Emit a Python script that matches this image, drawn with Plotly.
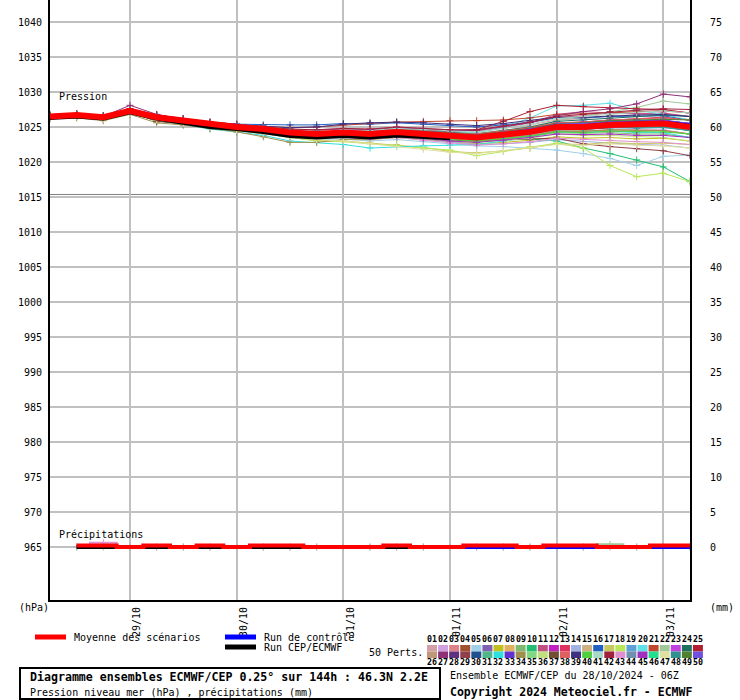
import plotly.graph_objects as go

# ---------------- data ----------------
HOURS = [0, 6, 12, 18, 24, 30, 36, 42, 48, 54, 60, 66, 72, 78, 84, 90, 96, 102, 108, 114, 120, 126, 132, 138, 144]
DAY_HOURS = [18, 42, 66, 90, 114, 138]
DAY_LABELS = ["29/10", "30/10", "31/10", "01/11", "02/11", "03/11"]
P_TICKS = [965, 970, 975, 980, 985, 990, 995, 1000, 1005, 1010, 1015, 1020, 1025, 1030, 1035, 1040]
MM_TICKS = [0, 5, 10, 15, 20, 25, 30, 35, 40, 45, 50, 55, 60, 65, 70, 75]

MEAN = [1026.5, 1026.7, 1026.4, 1027.3, 1026.4, 1025.9, 1025.3, 1025.0, 1024.7, 1024.2, 1024.0, 1024.2, 1024.0,
        1024.3, 1024.0, 1023.7, 1023.5, 1023.9, 1024.3, 1025.0, 1025.0, 1025.3, 1025.4, 1025.5, 1025.0]
CONTROL = [1026.5, 1026.7, 1026.4, 1027.3, 1026.4, 1025.9, 1025.3, 1025.0, 1024.7, 1024.2, 1024.0, 1024.2, 1024.0,
           1024.3, 1024.0, 1023.7, 1023.5, 1023.9, 1024.4, 1025.1, 1025.1, 1025.4, 1025.5, 1025.6, 1025.2]
HRES = [1026.3, 1026.5, 1026.2, 1027.1, 1026.2, 1025.6, 1025.0, 1024.7, 1024.3, 1023.7, 1023.5, 1023.7, 1023.5,
        1023.8, 1023.6, 1023.4]

MEMBER_COLORS = ["#d4a0a8", "#d0a0e0", "#e08088", "#a05030", "#a0d0e8", "#8060b0", "#c0c020", "#e0b060",
                 "#80b870", "#20c070", "#c05080", "#c020c0", "#e03060", "#a0b0e0", "#d0b080", "#2060c0",
                 "#c8c860", "#b8e858", "#60a0d8", "#60e0e8", "#c04830", "#a0c898", "#c040e0", "#207060",
                 "#b02030",
                 "#c09878", "#903078", "#603080", "#904048", "#205090", "#50b888", "#30e0e0", "#6030d0",
                 "#a09050", "#80d880", "#c0e080", "#705030", "#e06060", "#403080", "#50d040", "#a8d8c8",
                 "#a02040", "#e090d0", "#7090b0", "#a030c0", "#20e090", "#e0e0a0", "#309090", "#508030",
                 "#7050e0"]

M01 = [1026.6, 1026.8, 1026.5, 1027.4, 1026.6, 1026.1, 1025.6, 1025.3, 1025.0, 1024.6, 1024.5, 1024.7, 1024.6, 1024.9, 1024.7, 1024.5, 1024.4, 1024.8, 1025.3, 1026.0, 1026.2, 1026.6, 1026.7, 1026.9, 1026.5]
M02 = [1026.4, 1026.6, 1026.3, 1027.2, 1026.3, 1025.8, 1025.2, 1024.9, 1024.5, 1024.0, 1023.8, 1024.0, 1023.8, 1024.0, 1023.7, 1023.3, 1023.1, 1023.4, 1023.8, 1024.4, 1024.3, 1024.5, 1024.5, 1024.6, 1024.0]
M03 = [1026.7, 1026.9, 1026.6, 1027.6, 1026.7, 1026.2, 1025.7, 1025.4, 1025.1, 1024.7, 1024.6, 1024.8, 1024.7, 1025.0, 1024.8, 1024.6, 1024.6, 1025.1, 1025.6, 1026.4, 1026.6, 1027.0, 1027.2, 1027.4, 1027.0]
M04 = [1026.3, 1026.5, 1026.1, 1027.0, 1025.9, 1025.3, 1024.8, 1024.5, 1024.1, 1023.6, 1023.4, 1023.6, 1023.4, 1023.7, 1023.5, 1023.3, 1023.2, 1023.7, 1024.2, 1025.0, 1025.2, 1025.5, 1025.7, 1025.9, 1025.5]
M05 = [1026.4, 1026.6, 1026.2, 1027.1, 1026.1, 1025.6, 1025.0, 1024.6, 1024.2, 1023.6, 1023.2, 1023.3, 1023.0, 1023.2, 1022.9, 1022.6, 1022.3, 1022.2, 1022.0, 1021.7, 1021.2, 1020.5, 1019.5, 1020.8, 1021.0]
M06 = [1026.5, 1026.7, 1026.4, 1027.3, 1026.5, 1026.0, 1025.4, 1025.1, 1024.9, 1024.4, 1024.2, 1024.4, 1024.3, 1024.6, 1024.4, 1024.1, 1024.0, 1024.4, 1024.9, 1025.6, 1025.7, 1026.0, 1026.1, 1026.3, 1026.0]
M07 = [1026.2, 1026.4, 1026.0, 1026.9, 1026.0, 1025.5, 1024.9, 1024.6, 1024.3, 1023.8, 1023.5, 1023.6, 1023.3, 1023.5, 1023.2, 1022.8, 1022.6, 1022.8, 1023.1, 1023.6, 1023.4, 1023.5, 1023.3, 1023.4, 1023.0]
M08 = [1026.5, 1026.6, 1026.3, 1027.2, 1026.4, 1025.9, 1025.4, 1025.1, 1024.8, 1024.3, 1024.1, 1024.3, 1024.1, 1024.4, 1024.1, 1023.8, 1023.6, 1024.0, 1024.4, 1025.1, 1025.0, 1025.2, 1025.2, 1025.3, 1025.0]
M09 = [1026.3, 1026.5, 1026.2, 1027.1, 1026.2, 1025.7, 1025.1, 1024.8, 1024.4, 1023.9, 1023.7, 1023.8, 1023.6, 1023.8, 1023.5, 1023.1, 1022.9, 1023.2, 1023.6, 1024.2, 1024.1, 1024.2, 1024.0, 1024.0, 1023.5]
M10 = [1026.4, 1026.6, 1026.3, 1027.2, 1026.3, 1025.8, 1025.2, 1024.9, 1024.5, 1024.1, 1023.9, 1024.0, 1023.8, 1024.0, 1023.6, 1023.2, 1022.9, 1023.1, 1023.3, 1023.0, 1022.0, 1021.2, 1020.3, 1019.3, 1017.2]
M11 = [1026.6, 1026.8, 1026.5, 1027.5, 1026.6, 1026.1, 1025.5, 1025.2, 1024.9, 1024.4, 1024.3, 1024.5, 1024.4, 1024.7, 1024.5, 1024.3, 1024.3, 1024.9, 1025.6, 1026.8, 1027.2, 1027.0, 1026.9, 1027.0, 1026.5]
M12 = [1026.5, 1026.7, 1026.4, 1027.3, 1026.4, 1025.9, 1025.3, 1025.0, 1024.7, 1024.3, 1024.1, 1024.3, 1024.2, 1024.5, 1024.2, 1023.9, 1023.8, 1024.2, 1024.7, 1025.4, 1025.4, 1025.7, 1025.8, 1025.9, 1025.5]
M13 = [1026.6, 1026.8, 1026.5, 1027.4, 1026.5, 1026.0, 1025.5, 1025.1, 1024.8, 1024.3, 1024.2, 1024.4, 1024.3, 1024.6, 1024.3, 1024.0, 1023.9, 1024.3, 1024.8, 1025.5, 1025.7, 1026.0, 1026.2, 1026.4, 1026.0]
M14 = [1026.4, 1026.6, 1026.3, 1027.1, 1026.2, 1025.6, 1025.0, 1024.7, 1024.3, 1023.8, 1023.5, 1023.6, 1023.4, 1023.6, 1023.2, 1022.8, 1022.5, 1022.6, 1022.8, 1023.2, 1022.9, 1022.7, 1022.5, 1022.4, 1022.0]
M15 = [1026.5, 1026.6, 1026.3, 1027.2, 1026.3, 1025.8, 1025.2, 1024.9, 1024.6, 1024.1, 1023.8, 1024.0, 1023.8, 1024.1, 1023.8, 1023.4, 1023.2, 1023.5, 1023.9, 1024.5, 1024.4, 1024.6, 1024.5, 1024.5, 1024.0]
M16 = [1026.6, 1026.8, 1026.6, 1027.5, 1026.7, 1026.2, 1025.7, 1025.4, 1025.3, 1025.3, 1025.3, 1025.5, 1025.4, 1025.6, 1025.4, 1025.2, 1025.0, 1025.3, 1025.7, 1026.3, 1026.3, 1026.5, 1026.5, 1026.6, 1026.0]
M17 = [1026.3, 1026.5, 1026.2, 1027.0, 1026.1, 1025.5, 1024.9, 1024.5, 1024.1, 1023.5, 1023.1, 1023.0, 1022.7, 1022.5, 1022.1, 1021.5, 1021.3, 1021.6, 1022.0, 1022.6, 1022.5, 1022.8, 1022.6, 1022.7, 1022.5]
M18 = [1026.3, 1026.5, 1026.1, 1026.9, 1026.0, 1025.4, 1024.8, 1024.5, 1024.1, 1023.5, 1023.0, 1022.9, 1022.6, 1022.4, 1022.0, 1021.7, 1020.9, 1021.5, 1022.2, 1022.7, 1022.0, 1019.5, 1017.9, 1018.4, 1017.2]
M19 = [1026.5, 1026.7, 1026.4, 1027.3, 1026.4, 1025.9, 1025.3, 1025.0, 1024.7, 1024.2, 1024.0, 1024.1, 1023.9, 1024.1, 1023.8, 1023.4, 1023.2, 1023.5, 1023.9, 1024.6, 1024.6, 1024.9, 1024.8, 1024.9, 1024.5]
M20 = [1026.6, 1026.8, 1026.5, 1027.4, 1026.5, 1026.1, 1025.5, 1025.2, 1024.9, 1024.5, 1024.3, 1024.5, 1024.4, 1024.7, 1024.5, 1024.3, 1024.2, 1024.9, 1026.3, 1028.0, 1028.1, 1028.4, 1027.4, 1026.8, 1026.0]
M21 = [1026.6, 1026.8, 1026.5, 1027.5, 1026.6, 1026.1, 1025.6, 1025.3, 1025.1, 1024.9, 1025.0, 1025.3, 1025.5, 1025.7, 1025.8, 1025.9, 1025.9, 1026.0, 1026.3, 1026.8, 1026.9, 1027.0, 1027.2, 1027.3, 1027.0]
M22 = [1026.5, 1026.7, 1026.4, 1027.3, 1026.4, 1025.9, 1025.4, 1025.1, 1024.8, 1024.3, 1024.1, 1024.3, 1024.2, 1024.5, 1024.3, 1024.1, 1024.1, 1024.5, 1025.0, 1025.9, 1026.5, 1027.2, 1027.8, 1028.7, 1028.3]
M23 = [1026.5, 1026.7, 1026.4, 1027.3, 1026.4, 1025.9, 1025.3, 1025.0, 1024.6, 1024.2, 1023.9, 1024.1, 1023.9, 1024.2, 1023.9, 1023.6, 1023.4, 1023.8, 1024.2, 1024.9, 1024.9, 1025.1, 1025.2, 1025.3, 1025.0]
M24 = [1026.6, 1026.8, 1026.5, 1027.4, 1026.5, 1026.0, 1025.5, 1025.2, 1024.9, 1024.4, 1024.3, 1024.5, 1024.3, 1024.6, 1024.4, 1024.1, 1024.0, 1024.5, 1025.0, 1025.8, 1026.0, 1026.3, 1026.5, 1026.7, 1026.5]
M25 = [1026.7, 1026.9, 1026.6, 1027.6, 1026.7, 1026.2, 1025.6, 1025.3, 1025.0, 1024.6, 1024.4, 1024.6, 1024.5, 1024.8, 1024.6, 1024.4, 1024.6, 1025.8, 1027.2, 1028.1, 1027.9, 1027.7, 1027.6, 1027.5, 1027.0]
M26 = [1026.4, 1026.6, 1026.3, 1027.2, 1025.9, 1025.5, 1025.0, 1024.8, 1024.4, 1023.9, 1023.7, 1023.9, 1023.7, 1023.9, 1023.6, 1023.3, 1023.1, 1023.4, 1023.8, 1024.4, 1024.4, 1024.6, 1024.5, 1024.5, 1024.0]
M27 = [1026.6, 1026.8, 1026.5, 1028.1, 1026.8, 1026.1, 1025.6, 1025.3, 1025.0, 1024.6, 1024.5, 1024.7, 1024.6, 1024.9, 1024.7, 1024.5, 1024.5, 1025.0, 1025.6, 1026.6, 1027.2, 1027.6, 1028.3, 1029.7, 1029.3]
M28 = [1026.5, 1026.7, 1026.4, 1027.3, 1026.4, 1025.9, 1025.4, 1025.0, 1024.7, 1024.3, 1024.1, 1024.3, 1024.1, 1024.4, 1024.1, 1023.8, 1023.7, 1024.1, 1024.6, 1025.3, 1025.4, 1025.7, 1025.8, 1025.9, 1025.5]
M29 = [1026.4, 1026.6, 1026.2, 1027.1, 1026.1, 1025.6, 1025.0, 1024.7, 1024.3, 1023.8, 1023.5, 1023.7, 1023.5, 1023.7, 1023.4, 1023.1, 1023.0, 1023.2, 1023.3, 1023.4, 1022.6, 1022.2, 1021.9, 1021.6, 1020.9]
M30 = [1026.5, 1026.7, 1026.4, 1027.3, 1026.4, 1025.9, 1025.3, 1025.0, 1024.6, 1024.1, 1023.9, 1024.1, 1023.9, 1024.2, 1023.9, 1023.5, 1023.3, 1023.7, 1024.1, 1024.7, 1024.7, 1024.9, 1024.9, 1025.0, 1024.5]
M31 = [1026.5, 1026.6, 1026.3, 1027.2, 1026.4, 1025.9, 1025.3, 1025.0, 1024.7, 1024.2, 1024.0, 1024.2, 1024.0, 1024.3, 1024.0, 1023.7, 1023.5, 1023.9, 1024.3, 1025.0, 1025.0, 1025.2, 1025.2, 1025.3, 1025.0]
M32 = [1026.4, 1026.6, 1026.2, 1027.0, 1026.0, 1025.4, 1024.7, 1024.3, 1023.8, 1023.0, 1022.8, 1022.5, 1022.0, 1022.2, 1022.3, 1022.4, 1022.5, 1023.0, 1023.6, 1024.3, 1024.2, 1024.4, 1024.2, 1024.2, 1023.5]
M33 = [1026.6, 1026.7, 1026.4, 1027.4, 1026.5, 1026.0, 1025.4, 1025.1, 1024.8, 1024.3, 1024.1, 1024.3, 1024.2, 1024.5, 1024.2, 1023.9, 1023.8, 1024.2, 1024.7, 1025.4, 1025.5, 1025.8, 1025.9, 1026.0, 1025.5]
M34 = [1026.2, 1026.3, 1025.9, 1026.8, 1025.6, 1025.3, 1024.8, 1024.3, 1023.6, 1022.8, 1022.8, 1023.2, 1023.2, 1023.5, 1023.3, 1023.0, 1022.9, 1023.3, 1023.7, 1024.4, 1024.4, 1024.6, 1024.5, 1024.5, 1024.0]
M35 = [1026.5, 1026.7, 1026.4, 1027.3, 1026.4, 1025.9, 1025.3, 1025.0, 1024.7, 1024.2, 1024.0, 1024.2, 1024.0, 1024.2, 1023.9, 1023.6, 1023.4, 1023.8, 1024.2, 1024.8, 1024.8, 1025.0, 1025.0, 1025.0, 1024.5]
M36 = [1026.3, 1026.5, 1026.2, 1027.0, 1026.1, 1025.6, 1025.0, 1024.7, 1024.3, 1023.8, 1023.6, 1023.7, 1023.5, 1023.7, 1023.4, 1023.0, 1022.8, 1023.1, 1023.4, 1024.0, 1023.8, 1023.8, 1023.6, 1023.5, 1023.0]
M37 = [1026.4, 1026.6, 1026.3, 1027.2, 1025.8, 1025.5, 1025.0, 1024.9, 1024.6, 1024.1, 1023.9, 1024.1, 1023.9, 1024.2, 1023.9, 1023.6, 1023.4, 1023.8, 1024.2, 1024.9, 1024.9, 1025.1, 1025.1, 1025.2, 1025.0]
M38 = [1026.6, 1026.8, 1026.5, 1027.4, 1026.5, 1026.0, 1025.4, 1025.1, 1024.8, 1024.4, 1024.2, 1024.4, 1024.3, 1024.6, 1024.3, 1024.1, 1024.0, 1024.4, 1024.9, 1025.6, 1025.7, 1026.0, 1026.2, 1026.3, 1026.0]
M39 = [1026.6, 1026.8, 1026.5, 1027.5, 1026.6, 1026.1, 1025.6, 1025.3, 1025.1, 1024.9, 1025.0, 1025.4, 1025.6, 1025.7, 1025.6, 1025.4, 1025.2, 1025.5, 1025.9, 1026.4, 1026.4, 1026.6, 1026.7, 1026.8, 1026.5]
M40 = [1026.4, 1026.6, 1026.3, 1027.1, 1026.2, 1025.7, 1025.1, 1024.8, 1024.4, 1023.9, 1023.7, 1023.9, 1023.7, 1023.9, 1023.6, 1023.2, 1023.0, 1023.3, 1023.7, 1024.3, 1024.2, 1024.4, 1024.3, 1024.3, 1024.0]
M41 = [1026.6, 1026.8, 1026.5, 1027.5, 1026.6, 1026.1, 1025.6, 1025.3, 1025.0, 1024.6, 1024.4, 1024.6, 1024.5, 1024.8, 1024.6, 1024.4, 1024.3, 1024.8, 1025.4, 1026.2, 1026.5, 1026.9, 1027.1, 1027.3, 1027.0]
M42 = [1026.7, 1026.9, 1026.6, 1027.6, 1026.7, 1026.2, 1025.7, 1025.4, 1025.1, 1024.7, 1024.6, 1024.8, 1024.7, 1025.0, 1024.8, 1024.6, 1024.6, 1025.1, 1025.7, 1026.5, 1026.8, 1027.2, 1027.4, 1027.6, 1027.5]
M43 = [1026.3, 1026.5, 1026.2, 1027.0, 1026.1, 1025.6, 1025.0, 1024.6, 1024.2, 1023.7, 1023.4, 1023.5, 1023.3, 1023.5, 1023.1, 1022.7, 1022.4, 1022.6, 1022.9, 1023.4, 1023.2, 1023.1, 1022.9, 1022.8, 1022.5]
M44 = [1026.5, 1026.7, 1026.4, 1027.3, 1026.4, 1025.9, 1025.3, 1025.0, 1024.7, 1024.3, 1024.1, 1024.3, 1024.1, 1024.4, 1024.1, 1023.8, 1023.6, 1024.0, 1024.5, 1025.2, 1025.2, 1025.5, 1025.6, 1025.7, 1025.5]
M45 = [1026.4, 1026.6, 1026.3, 1027.1, 1026.2, 1025.7, 1025.1, 1024.8, 1024.4, 1023.9, 1023.6, 1023.8, 1023.6, 1023.8, 1023.4, 1023.0, 1022.8, 1023.1, 1023.5, 1024.0, 1023.9, 1024.0, 1023.8, 1023.8, 1023.5]
M46 = [1026.5, 1026.7, 1026.4, 1027.3, 1026.4, 1025.9, 1025.3, 1025.0, 1024.7, 1024.2, 1024.0, 1024.2, 1024.0, 1024.3, 1024.0, 1023.7, 1023.5, 1023.9, 1024.3, 1025.0, 1024.9, 1025.1, 1025.1, 1025.2, 1025.0]
M47 = [1026.3, 1026.5, 1026.1, 1026.9, 1026.0, 1025.5, 1024.9, 1024.5, 1024.1, 1023.5, 1023.2, 1023.0, 1022.6, 1022.2, 1021.8, 1021.4, 1021.2, 1021.6, 1022.0, 1022.5, 1022.4, 1022.6, 1022.4, 1022.3, 1022.0]
M48 = [1026.5, 1026.7, 1026.4, 1027.3, 1026.4, 1025.9, 1025.3, 1025.0, 1024.6, 1024.1, 1023.9, 1024.1, 1023.9, 1024.1, 1023.8, 1023.5, 1023.3, 1023.7, 1024.1, 1024.8, 1024.8, 1025.0, 1025.0, 1025.0, 1024.5]
M49 = [1026.6, 1026.7, 1026.4, 1027.4, 1026.5, 1026.0, 1025.4, 1025.1, 1024.8, 1024.4, 1024.2, 1024.4, 1024.2, 1024.5, 1024.3, 1024.0, 1023.9, 1024.3, 1024.8, 1025.5, 1025.6, 1025.9, 1026.0, 1026.1, 1026.0]
M50 = [1026.5, 1026.7, 1026.4, 1027.3, 1026.5, 1026.0, 1025.4, 1025.1, 1024.8, 1024.3, 1024.1, 1024.3, 1024.2, 1024.5, 1024.2, 1023.9, 1023.8, 1024.2, 1024.7, 1025.4, 1025.5, 1025.7, 1025.8, 1025.9, 1025.5]

MEMBERS = [M01, M02, M03, M04, M05, M06, M07, M08, M09, M10, M11, M12, M13, M14, M15, M16, M17, M18, M19, M20,
           M21, M22, M23, M24, M25, M26, M27, M28, M29, M30, M31, M32, M33, M34, M35, M36, M37, M38, M39, M40,
           M41, M42, M43, M44, M45, M46, M47, M48, M49, M50]

# precipitation (mm per 6 h), valid at 06h..144h
PRECIP_HOURS = [6, 12, 18, 24, 30, 36, 42, 48, 54, 60, 66, 72, 78, 84, 90, 96, 102, 108, 114, 120, 126, 132, 138, 144]
MEAN_PRECIP = [0.2, 0.2, 0.0, 0.2, 0.0, 0.2, 0.0, 0.2, 0.2, 0.0, 0.0, 0.0, 0.2, 0.0, 0.0, 0.2, 0.2, 0.0, 0.2, 0.2,
               0.0, 0.0, 0.2, 0.2]
CONTROL_PRECIP = [0.0, 0.0, 0.0, 0.0, 0.0, 0.0, 0.0, 0.0, 0.0, 0.0, 0.0, 0.0, 0.0, 0.0, 0.0, 0.0, 0.0, 0.0, 0.0, 0.0,
                  0.0, 0.0, 0.0, 0.0]
HRES_PRECIP = [0.0, 0.0, 0.0, 0.0, 0.0, 0.0, 0.0, 0.0, 0.0, 0.0, 0.0, 0.0, 0.0, 0.0, 0.0]
M43_PRECIP = [0.0, 0.6, 0.0, 0.0, 0.0, 0.0, 0.0, 0.0, 0.0, 0.0, 0.0, 0.0, 0.0, 0.0, 0.0, 0.0, 0.0, 0.0, 0.0, 0.0,
              0.0, 0.0, 0.0, 0.0]
M22_PRECIP = [0.0, 0.0, 0.0, 0.0, 0.0, 0.0, 0.0, 0.0, 0.0, 0.0, 0.0, 0.0, 0.0, 0.0, 0.0, 0.0, 0.0, 0.0, 0.0, 0.0,
              0.4, 0.0, 0.0, 0.0]
MEMBER_PRECIP = {43: M43_PRECIP, 22: M22_PRECIP}

# ---------------- layout geometry ----------------
W, H = 740, 700
ML, MR, MT, MB = 50, 50, 0, 100
PW, PH = W - ML - MR, H - MT - MB
FONT = "DejaVu Sans Mono"


def px(x):
    return (x - ML) / PW


def py(y):
    return (H - MB - y) / PH


P_RANGE = [957.4286, 1043.1429]
MM_RANGE = [P_RANGE[0] - 965, P_RANGE[1] - 965]

fig = go.Figure()

# ensemble members
for i, (vals, col) in enumerate(zip(MEMBERS, MEMBER_COLORS)):
    fig.add_trace(go.Scatter(
        x=HOURS, y=vals, mode="lines+markers",
        line=dict(color=col, width=1),
        marker=dict(symbol="cross-thin", size=5, line=dict(color=col, width=1)),
        hoverinfo="skip", showlegend=False))

# member precipitation
for idx, vals in MEMBER_PRECIP.items():
    col = MEMBER_COLORS[idx - 1]
    fig.add_trace(go.Scatter(
        x=PRECIP_HOURS, y=vals, yaxis="y2", mode="lines+markers",
        line=dict(color=col, width=2, shape="hvh"),
        marker=dict(symbol="cross-thin", size=5, line=dict(color=col, width=1)),
        hoverinfo="skip", showlegend=False))

# control / hres
fig.add_trace(go.Scatter(x=HOURS, y=CONTROL, mode="lines", line=dict(color="#0000ff", width=4),
                         hoverinfo="skip", showlegend=False))
fig.add_trace(go.Scatter(x=HOURS[:len(HRES)], y=HRES, mode="lines", line=dict(color="#000000", width=4),
                         hoverinfo="skip", showlegend=False))
fig.add_trace(go.Scatter(x=PRECIP_HOURS, y=CONTROL_PRECIP, yaxis="y2", mode="lines",
                         line=dict(color="#0000ff", width=4, shape="hvh"), hoverinfo="skip", showlegend=False))
fig.add_trace(go.Scatter(x=PRECIP_HOURS[:len(HRES_PRECIP)], y=HRES_PRECIP, yaxis="y2", mode="lines",
                         line=dict(color="#000000", width=4, shape="hvh"), hoverinfo="skip", showlegend=False))

# mean
fig.add_trace(go.Scatter(x=HOURS, y=MEAN, mode="lines", line=dict(color="#ff0000", width=6),
                         hoverinfo="skip", showlegend=False))
fig.add_trace(go.Scatter(x=PRECIP_HOURS, y=MEAN_PRECIP, yaxis="y2", mode="lines",
                         line=dict(color="#ff0000", width=4, shape="hvh"), hoverinfo="skip", showlegend=False))

shapes = []
# double separator line at 1015
for yv in (1015.0, 1015.36):
    shapes.append(dict(type="line", xref="paper", yref="y", x0=0, x1=1, y0=yv, y1=yv,
                       line=dict(color="#808080", width=1), layer="below"))

# legend lines
shapes.append(dict(type="line", xref="paper", yref="paper", x0=px(35), x1=px(66), y0=py(637), y1=py(637),
                   line=dict(color="#ff0000", width=5)))
shapes.append(dict(type="line", xref="paper", yref="paper", x0=px(225), x1=px(256), y0=py(637), y1=py(637),
                   line=dict(color="#0000ff", width=5)))
shapes.append(dict(type="line", xref="paper", yref="paper", x0=px(225), x1=px(256), y0=py(647), y1=py(647),
                   line=dict(color="#000000", width=5)))

# bottom-left framed box
shapes.append(dict(type="rect", xref="paper", yref="paper", x0=px(20), x1=px(440), y0=py(699), y1=py(668),
                   line=dict(color="#000000", width=2), fillcolor="rgba(0,0,0,0)"))

annotations = []


def txt(text, x, y, size=10, anchor="left", bold=False):
    if bold:
        text = "<b>" + text + "</b>"
    annotations.append(dict(text=text, xref="paper", yref="paper", x=px(x), y=py(y), xanchor=anchor,
                            yanchor="middle", showarrow=False, borderpad=0,
                            font=dict(family=FONT, size=size, color="#000000")))


txt("Pression", 58, 96)
txt("Précipitations", 58, 534)
txt("(hPa)", 18, 607)
txt("(mm)", 709, 607)
txt("Moyenne des scénarios", 73, 637.5)
txt("Run de contrôle", 263, 637)
txt("Run CEP/ECMWF", 263, 647)
txt("50 Perts.", 368, 652)
txt("Diagramme ensembles ECMWF/CEP 0.25° sur 144h : 46.3N 2.2E", 29, 677, size=11.6, bold=True)
txt("Pression niveau mer (hPa) , précipitations (mm)", 29, 692)
txt("Ensemble ECMWF/CEP du 28/10/2024 - 06Z", 449, 675)
txt("Copyright 2024 Meteociel.fr - ECMWF", 449, 692, size=11.5, bold=True)

# member colour swatches
for i in range(25):
    x0 = 427 + i * 11.08
    for row, yy in ((0, 645), (1, 651.5)):
        col = MEMBER_COLORS[i + 25 * row]
        shapes.append(dict(type="rect", xref="paper", yref="paper", x0=px(x0), x1=px(x0 + 10),
                           y0=py(yy + 6.5), y1=py(yy), line=dict(width=0), fillcolor=col))
    txt("%02d" % (i + 1), x0 + 5, 639, size=8.3, anchor="center", bold=True)
    txt("%02d" % (i + 26), x0 + 5, 662, size=8.3, anchor="center", bold=True)

fig.update_layout(
    width=W, height=H, margin=dict(l=ML, r=MR, t=MT, b=MB, pad=0),
    paper_bgcolor="white", plot_bgcolor="white",
    font=dict(family=FONT, size=10, color="#000000"),
    showlegend=False,
    shapes=shapes, annotations=annotations,
    xaxis=dict(range=[0, 144], tickvals=DAY_HOURS, ticktext=DAY_LABELS, tickangle=-90,
               showgrid=True, gridcolor="#c0c0c0", gridwidth=2, zeroline=False,
               showline=True, linecolor="#000000", linewidth=2, ticks="", ticklabelshift=7,
               ticklabelstandoff=1, tickfont=dict(family=FONT, size=10)),
    yaxis=dict(range=P_RANGE, tickvals=P_TICKS, ticktext=[str(v) for v in P_TICKS],
               showgrid=True, gridcolor="#c0c0c0", gridwidth=2, zeroline=False,
               showline=True, linecolor="#000000", linewidth=2, ticks="", ticklabelstandoff=4,
               tickfont=dict(family=FONT, size=10)),
    yaxis2=dict(range=MM_RANGE, tickvals=MM_TICKS, ticktext=[str(v) for v in MM_TICKS],
                overlaying="y", side="right", showgrid=False, zeroline=False,
                showline=True, linecolor="#000000", linewidth=2, ticks="", ticklabelstandoff=16,
                tickfont=dict(family=FONT, size=10)),
)

fig.write_html("out.html")
